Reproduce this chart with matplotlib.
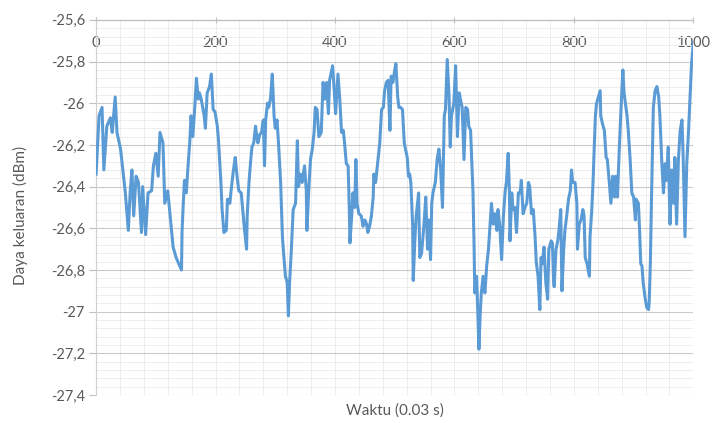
import matplotlib.pyplot as plt
from matplotlib.ticker import MultipleLocator, FuncFormatter

# Data daya keluaran terhadap waktu (indeks sampel, 1 sampel = 0.03 s)
waktu = [0, 5, 10, 13, 18, 24, 27, 32, 35, 41, 49, 54, 57, 60, 63, 67, 71, 76, 78, 83,
         87, 93, 96, 100, 104, 107, 109, 112, 115, 120, 126,
         129, 134, 140, 143, 144, 146, 148, 151, 154, 157, 159, 162, 165, 168, 171, 173,
         176, 181, 183, 186, 190, 193, 196, 199, 203, 205, 209, 211, 214, 218, 220, 224,
         226, 230, 233, 236, 239, 243, 248, 252,
         253, 256, 259, 261, 264, 267, 269, 271, 274, 277, 280, 282, 284, 287, 289, 292,
         295, 298, 300, 303, 306, 309, 312, 314, 317, 320, 322, 324, 327, 330, 334, 337,
         339, 342, 345, 349, 352, 353, 356, 359, 362, 365, 367, 370, 373, 377, 380,
         383, 386, 389, 391, 396, 399, 401, 405, 408, 411, 414, 416, 419, 422, 424, 425,
         428, 430, 433, 435, 437, 440, 444, 447, 450, 453, 455, 458, 461, 464, 465, 468,
         472, 475, 478, 481, 483, 486, 489, 492, 494, 497, 500, 502,
         505, 507, 510, 513, 516, 518, 521, 523, 525, 527, 530, 531, 534, 536, 540, 542,
         545, 549, 552, 555, 557, 560, 562, 564, 568, 571, 574, 577, 580, 581, 583, 585,
         588, 591, 593, 595, 599, 602, 605, 608, 610, 613, 616, 619, 622, 624, 627, 629,
         631, 633, 634,
         637, 639, 641, 643, 645, 648, 651, 654, 657, 659, 662, 665, 668, 671, 673, 676,
         679, 682, 685, 687, 690, 692, 693, 696, 698, 701, 704, 707, 710, 712, 715, 718,
         721, 724, 726, 729, 732, 735, 737, 740, 743, 745, 747, 750, 753, 756, 758, 762,
         764, 766, 767, 770, 773, 775, 778, 780, 783, 785, 788, 791, 794, 796, 798, 802,
         805, 806, 809, 812, 815, 817, 819, 822, 826, 827, 830, 832, 834, 836, 838, 841,
         844, 845, 848, 851, 854, 856, 859, 862, 865, 868, 870, 873, 876, 879, 882, 884,
         889, 891, 894, 897, 900, 903, 904, 908, 910, 912, 914, 916, 919, 922, 925, 926,
         928, 930, 933, 936, 939, 942, 944, 947, 950, 953, 955, 958, 961, 964, 967, 969,
         972, 975, 978, 981, 983, 986, 989, 992, 994, 997, 1000]

daya = [-26.34, -26.06, -26.02, -26.32, -26.11, -26.07, -26.14, -25.97, -26.14, -26.22,
        -26.43, -26.61, -26.43, -26.32, -26.54, -26.35, -26.38, -26.62, -26.40, -26.63,
        -26.43, -26.42, -26.30, -26.24, -26.35, -26.14, -26.16, -26.19, -26.48, -26.42,
        -26.60,
        -26.69, -26.74, -26.78, -26.80, -26.61, -26.48, -26.37, -26.43, -26.30, -26.18,
        -26.06, -26.16, -26.03, -25.88, -25.98, -25.95, -25.98, -26.06, -26.12, -25.95,
        -25.92, -25.86, -26.03, -26.04, -26.11, -26.18, -26.38, -26.51, -26.62, -26.61,
        -26.46, -26.48, -26.42, -26.32, -26.26, -26.35, -26.42, -26.43, -26.59, -26.70,
        -26.54, -26.38, -26.27, -26.21, -26.19, -26.11, -26.16, -26.19, -26.15, -26.14,
        -26.08, -26.30, -26.08, -26.00, -26.02, -25.98, -25.86, -26.06, -26.12, -26.08,
        -26.22, -26.38, -26.64, -26.72, -26.83, -26.86, -27.02, -26.86, -26.70, -26.51,
        -26.48, -26.18, -26.40, -26.34, -26.38, -26.30, -26.42, -26.61, -26.42, -26.27,
        -26.22, -26.14, -26.02, -26.03, -26.16, -26.14, -25.90,
        -25.98, -25.90, -26.05, -25.89, -25.82, -25.95, -26.05, -25.86, -25.98, -26.14,
        -26.13, -26.19, -26.29, -26.30, -26.51, -26.67, -26.54, -26.43, -26.50, -26.27,
        -26.48, -26.53, -26.54, -26.59, -26.56, -26.58, -26.62, -26.59, -26.54, -26.45,
        -26.34, -26.38, -26.27, -26.19, -26.03, -26.02, -25.94, -25.90, -25.89, -26.13,
        -25.87, -25.90, -25.84, -25.81,
        -25.97, -26.02, -26.02, -26.03, -26.19, -26.22, -26.26, -26.35, -26.34, -26.38,
        -26.58, -26.85, -26.64, -26.54, -26.43, -26.74, -26.72, -26.58, -26.45, -26.70,
        -26.56, -26.75, -26.48, -26.43, -26.38, -26.27, -26.22, -26.32, -26.50, -26.35,
        -26.06, -26.03, -25.79, -25.97, -26.21, -26.06, -26.00, -25.82, -26.16, -25.95,
        -25.98, -26.02, -26.27, -26.02, -26.03, -26.11, -26.13, -26.27, -26.42, -26.70,
        -26.91,
        -26.83, -26.99, -27.18, -27.02, -26.91, -26.83, -26.91, -26.78, -26.70, -26.61,
        -26.48, -26.58, -26.53, -26.61, -26.51, -26.59, -26.75, -26.54, -26.42, -26.38,
        -26.24, -26.42, -26.66, -26.43, -26.51, -26.50, -26.62, -26.43, -26.43, -26.37,
        -26.53, -26.50, -26.48, -26.38, -26.40, -26.53, -26.51, -26.64, -26.76, -26.83,
        -26.99, -26.74, -26.77, -26.69, -26.86, -26.94, -26.70, -26.66,
        -26.67, -26.85, -26.88, -26.70, -26.66, -26.61, -26.51, -26.90, -26.70, -26.61,
        -26.54, -26.46, -26.42, -26.32, -26.38, -26.38, -26.48, -26.70, -26.58, -26.56,
        -26.51, -26.54, -26.74, -26.77, -26.83, -26.64, -26.51, -26.38, -26.22, -26.06,
        -26.00, -25.97, -25.94, -26.06, -26.10, -26.13, -26.26, -26.27, -26.37, -26.48,
        -26.35, -26.45, -26.35, -26.45, -26.22, -26.02, -25.84, -25.95,
        -26.06, -26.13, -26.26, -26.43, -26.45, -26.56, -26.46, -26.48, -26.61, -26.77,
        -26.78, -26.86, -26.93, -26.98, -26.99, -26.96, -26.77, -26.45, -26.02, -25.94,
        -25.92, -25.97, -26.06, -26.27, -26.43, -26.29, -26.37, -26.21, -26.58, -26.32,
        -26.48, -26.26, -26.58, -26.27, -26.13, -26.08, -26.26, -26.64, -26.29, -26.13,
        -26.00, -25.81, -25.71]

plt.rcParams['font.family'] = ['Lato', 'DejaVu Sans']
warna_teks = '#595959'

fig = plt.figure(figsize=(7.17, 4.23), dpi=100)
ax = fig.add_axes([0.134, 0.066, 0.833, 0.887])

ax.plot(waktu, daya, color='#5B9BD5', linewidth=2.2, solid_joinstyle='round', zorder=3)

ax.set_xlim(0, 1000)
ax.set_ylim(-27.4, -25.6)

# sumbu waktu di atas, label di dalam area plot
ax.xaxis.set_major_locator(MultipleLocator(200))
ax.xaxis.set_minor_locator(MultipleLocator(40))
ax.yaxis.set_major_locator(MultipleLocator(0.2))
ax.yaxis.set_minor_locator(MultipleLocator(0.04))
ax.xaxis.set_ticks_position('top')
ax.tick_params(axis='x', which='major', direction='inout', length=5, width=0.8,
               color='#BFBFBF', labelsize=10.5, labelcolor=warna_teks, pad=-24)
ax.tick_params(axis='y', which='major', direction='out', length=5, width=0.8,
               color='#BFBFBF', labelsize=10.5, labelcolor=warna_teks, pad=3)
ax.tick_params(which='minor', length=0)

ax.yaxis.set_major_formatter(FuncFormatter(lambda v, p: f'{round(v, 1):g}'.replace('.', ',')))

ax.grid(which='major', axis='y', color='#CACACA', linewidth=0.8)
ax.grid(which='minor', axis='y', color='#EDEDED', linewidth=0.7)
ax.grid(which='both', axis='x', color='#EDEDED', linewidth=0.7)
ax.set_axisbelow(True)

for s in ['right', 'bottom']:
    ax.spines[s].set_visible(False)
ax.spines['top'].set_color('#BFBFBF')
ax.spines['left'].set_color('#D0D0D0')
ax.spines['top'].set_linewidth(0.9)
ax.spines['left'].set_linewidth(0.8)

fig.text(0.028, 0.49, 'Daya keluaran (dBm)', rotation=90, ha='center', va='center',
         fontsize=11, color=warna_teks)
fig.text(0.551, 0.03, 'Waktu (0.03 s)', ha='center', va='center',
         fontsize=11, color=warna_teks)

fig.savefig('out.png', dpi=100)
